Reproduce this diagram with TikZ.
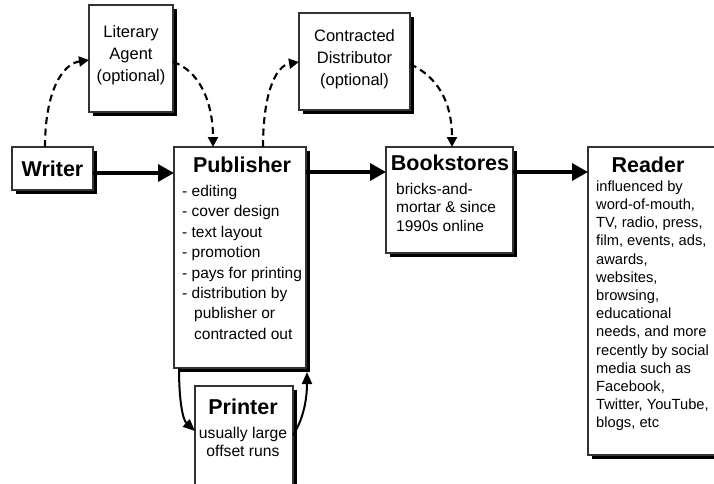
\documentclass[tikz,border=0pt]{standalone}
\usepackage{fontspec}
\setmainfont{Liberation Sans}
\usetikzlibrary{arrows.meta,shadows,calc}
\begin{document}
\begin{tikzpicture}[x=1pt,y=-1pt,
  box/.style={draw=black!80, line width=1.1pt, fill=white, inner sep=0pt, outer sep=0pt, anchor=north west,
    drop shadow={shadow xshift=3.5pt, shadow yshift=-3.5pt, fill=black, opacity=1}},
  ttl/.style={font=\fontsize{21.5}{24}\selectfont\bfseries, inner sep=0pt},
  body/.style={font=\fontsize{15.5}{20.4}\selectfont, inner sep=0pt, align=left, anchor=north west},
  cbody/.style={font=\fontsize{16.5}{22}\selectfont, inner sep=0pt, align=center},
  flow/.style={line width=3.5pt, -{Triangle[length=16pt,width=17pt]}},
  opt/.style={line width=2.1pt, dash pattern=on 7pt off 4.5pt, -{Triangle[length=10pt,width=10pt]}},
  prt/.style={line width=2pt, -{Triangle[length=12pt,width=10pt]}},
]
\useasboundingbox (0,0) rectangle (714,483);
\fill[white] (0,0) rectangle (714,483);

% boxes
\node[box, minimum width=81pt, minimum height=43pt] (writer) at (12,147) {};
\node[box, minimum width=84pt, minimum height=107pt] (agent) at (89,5) {};
\node[box, minimum width=132pt, minimum height=221pt] (pub) at (174,147) {};
\node[box, minimum width=111pt, minimum height=97pt] (dist) at (299,13) {};
\node[box, minimum width=127pt, minimum height=106pt] (book) at (386,147) {};
\node[box, minimum width=140pt, minimum height=308pt] (reader) at (588,147) {};
\node[box, minimum width=98pt, minimum height=110pt] (printer) at (195,386) {};

% texts
\node[ttl] (writerT) at (52.5,169) {Writer};
\node[cbody] (agentT) at (131,55) {Literary\\Agent\\(optional)};
\node[cbody] (distT) at (354.5,59.5) {Contracted\\Distributor\\(optional)};
\node[ttl] (pubT) at (242,165) {Publisher};
\node[body] (pubL) at (182,185) {- editing\\- cover design\\- text layout\\- promotion\\- pays for printing\\- distribution by\\\hspace*{12pt}publisher or\\\hspace*{12pt}contracted out};
\node[ttl] (bookT) at (450,163) {Bookstores};
\node[body, font=\fontsize{15.5}{18.5}\selectfont] (bookL) at (396,183) {bricks-and-\\mortar \& since\\1990s online};
\node[ttl] (readerT) at (648,165) {Reader};
\node[body, font=\fontsize{14.7}{18.2}\selectfont] (readerL) at (596,180.5) {influenced by\\word-of-mouth,\\TV, radio, press,\\film, events, ads,\\awards,\\websites,\\browsing,\\educational\\needs, and more\\recently by social\\media such as\\Facebook,\\Twitter, YouTube,\\blogs, etc};
\node[ttl] (printerT) at (243,407) {Printer};
\node[cbody, font=\fontsize{15.7}{18}\selectfont] (printerL) at (243,442) {usually large\\offset runs};

% main flow
\draw[flow] (writer.east |- 0,173) -- (pub.west |- 0,173);
\draw[flow] (pub.east |- 0,172) -- (book.west |- 0,172);
\draw[flow] (book.east |- 0,172) -- (reader.west |- 0,172);

% optional dashed routes
\draw[opt] (writer.north -| 45,0) .. controls (45,92) and (62,64) .. (agent.west |- 0,60);
\draw[opt] (agent.east |- 0,62) .. controls (198,70) and (213,100) .. (pub.north -| 213,0);
\draw[opt] (pub.north -| 263,0) .. controls (263,95) and (275,66) .. (dist.west |- 0,62);
\draw[opt] (dist.east |- 0,64) .. controls (436,76) and (452,100) .. (book.north -| 452,0);

% printer loop
\draw[prt] (pub.south -| 179,0) .. controls (179,402) and (183,420) .. (printer.west |- 0,431);
\draw[prt] (printer.east |- 0,435) .. controls (303,420) and (307,400) .. ($(pub.south -| 307,0)+(0,4)$);
\end{tikzpicture}
\end{document}
